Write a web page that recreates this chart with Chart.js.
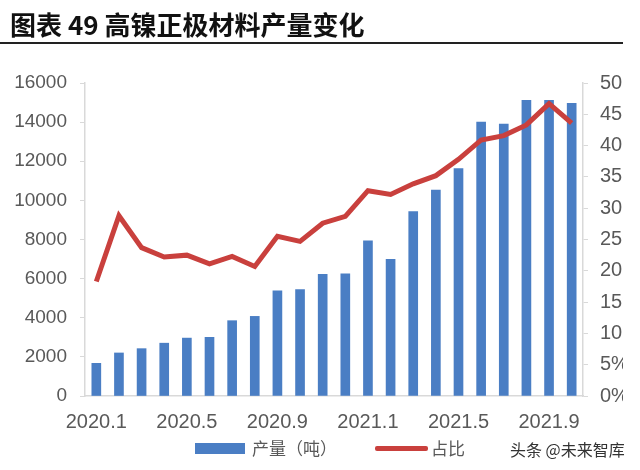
<!DOCTYPE html>
<html>
<head>
<meta charset="utf-8">
<script src="https://cdn.jsdelivr.net/npm/chart.js@4"></script>
<style>
  body { margin: 0; background: #fff; }
  #wrap { position: relative; width: 623px; height: 470px; overflow: hidden; }
  #c { position: absolute; left: 0; top: 0; }
  .titulo { position: absolute; left: 10px; top: 8px; font: bold 26px "Noto Sans CJK SC", sans-serif; line-height: 32px; color: #111; white-space: nowrap; }
  .regla { position: absolute; left: 0; top: 42px; width: 623px; height: 2px; background: #222; }
  .ley { position: absolute; font: 17px "Noto Sans CJK SC", sans-serif; color: #595959; line-height: 20px; white-space: nowrap; }
  .caja { position: absolute; }
  .marca { position: absolute; left: 510px; top: 439px; font: 16px "Noto Sans CJK SC", sans-serif; color: #333; line-height: 20px; white-space: nowrap; }
</style>
</head>
<body>
<div id="wrap">
  <canvas id="c" width="640" height="470"></canvas>
  <div class="titulo">图表 49 高镍正极材料产量变化</div>
  <div class="regla"></div>
  <div class="caja" style="left:195px;top:443px;width:50px;height:11px;background:#4A7EC4"></div>
  <div class="ley" style="left:252px;top:438px">产量（吨）</div>
  <div class="caja" style="left:375px;top:446px;width:53px;height:5px;background:#C9403D;border-radius:2px"></div>
  <div class="ley" style="left:431px;top:438px">占比</div>
</div>
<div class="marca">头条 @未来智库</div>
<script>
const meses = ["2020.1","2020.2","2020.3","2020.4","2020.5","2020.6","2020.7","2020.8","2020.9","2020.10","2020.11","2020.12",
               "2021.1","2021.2","2021.3","2021.4","2021.5","2021.6","2021.7","2021.8","2021.9","2021.10"];
const produccion = [1670, 2200, 2420, 2700, 2960, 3000, 3850, 4070, 5370, 5440, 6220, 6250,
                    7930, 6990, 9430, 10520, 11630, 14000, 13900, 15110, 15110, 14960];
const participacion = [18.3, 28.8, 23.7, 22.2, 22.5, 21.1, 22.3, 20.7, 25.5, 24.7, 27.6, 28.7,
                       32.8, 32.2, 33.9, 35.2, 37.8, 40.9, 41.6, 43.3, 46.7, 43.6];

const gris = '#595959';
const eje = '#d9d9d9';

new Chart(document.getElementById('c').getContext('2d'), {
  data: {
    labels: meses,
    datasets: [
      { type: 'line', label: '占比', data: participacion, yAxisID: 'y2', order: 0,
        borderColor: '#C9403D', backgroundColor: '#C9403D', borderWidth: 5,
        pointRadius: 0, tension: 0 },
      { type: 'bar', label: '产量（吨）', data: produccion, yAxisID: 'y', order: 1,
        backgroundColor: '#4A7EC4', barThickness: 9 }
    ]
  },
  options: {
    responsive: false,
    animation: false,
    devicePixelRatio: 1,
    layout: { padding: { top: 83, left: 0, right: 0, bottom: 0 } },
    plugins: { legend: { display: false }, tooltip: { enabled: false } },
    scales: {
      x: {
        grid: { display: false },
        border: { display: true, color: eje, width: 1.5 },
        ticks: {
          autoSkip: false, maxRotation: 0, padding: 6, color: gris,
          font: { family: 'Liberation Sans', size: 20 },
          callback: (v, i) => i % 4 === 0 ? meses[i] : ''
        },
        afterFit: s => { s.height = 74; }
      },
      y: {
        position: 'left', min: 0, max: 16000,
        grid: { drawOnChartArea: false, color: eje, tickLength: 5 },
        border: { display: true, color: eje, width: 1.5 },
        ticks: { stepSize: 2000, padding: 13, color: gris,
          font: { family: 'Liberation Sans', size: 19 },
          callback: v => v },
        afterFit: s => { s.width = 85; }
      },
      y2: {
        position: 'right', min: 0, max: 50,
        grid: { drawOnChartArea: false, color: eje, tickLength: 5 },
        border: { display: true, color: eje, width: 1.5 },
        ticks: { stepSize: 5, padding: 12, color: gris,
          font: { family: 'Liberation Sans', size: 20 },
          callback: v => v + '%' },
        afterFit: s => { s.width = 57; }
      }
    }
  }
});
</script>
</body>
</html>
